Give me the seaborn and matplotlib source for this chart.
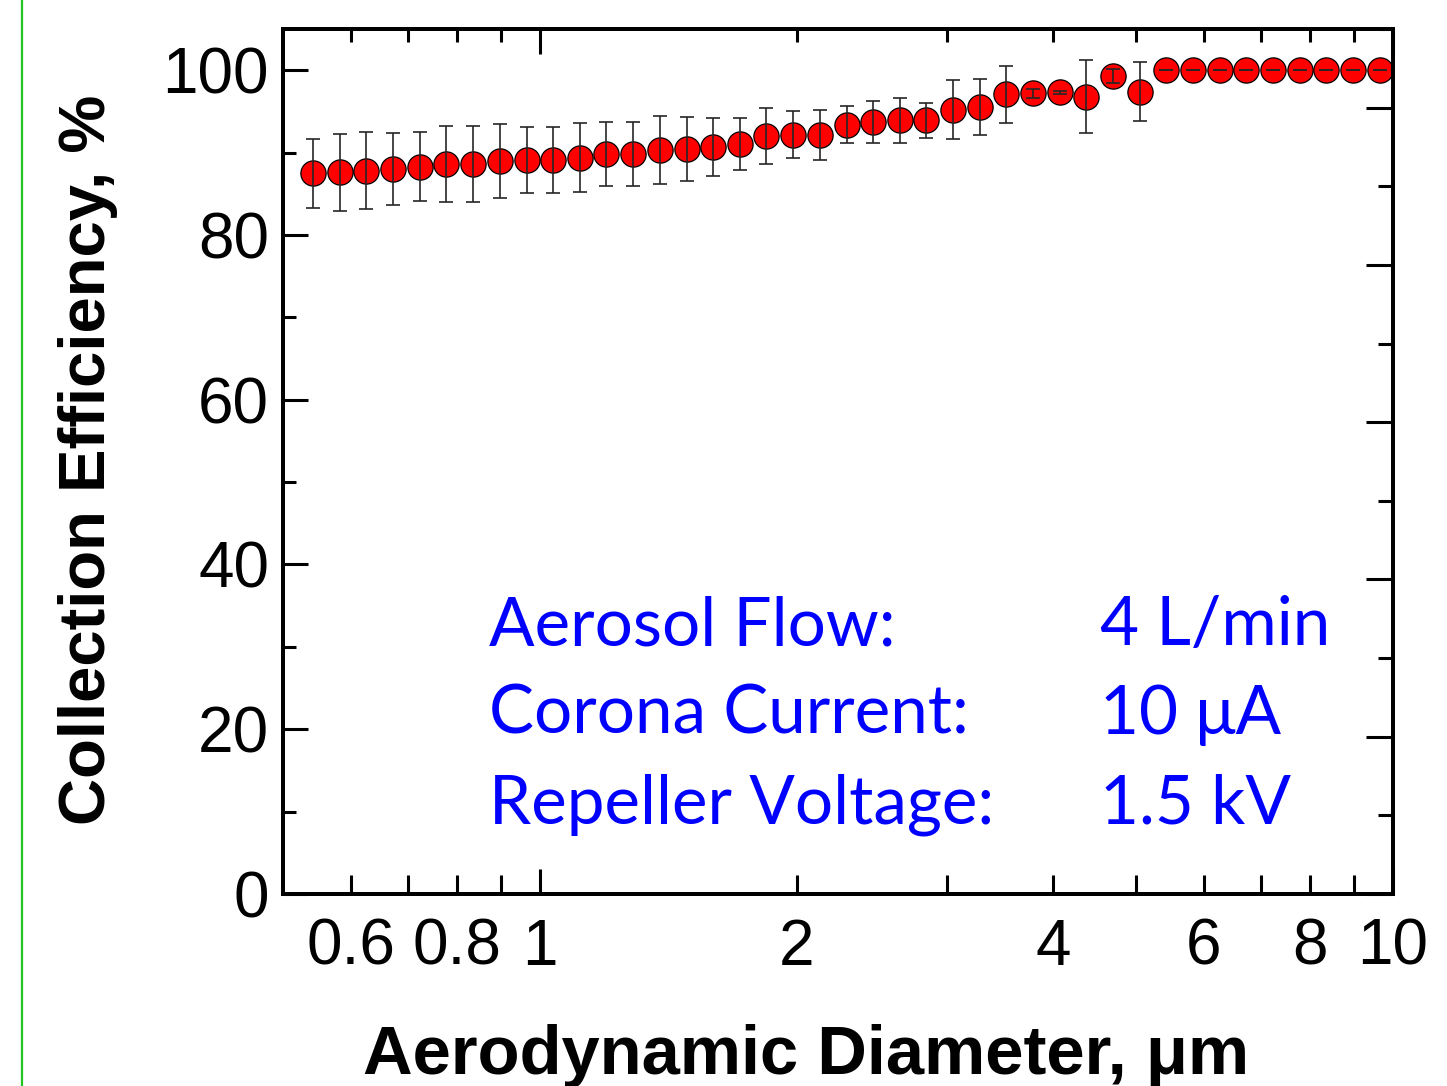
import numpy as np
import seaborn as sns
import matplotlib.pyplot as plt
from matplotlib.lines import Line2D

# aerodynamic diameter (um), APS channel midpoints
diameter = [0.542, 0.583, 0.626, 0.673, 0.723, 0.777, 0.835, 0.898, 0.965, 1.037,
            1.114, 1.197, 1.286, 1.382, 1.486, 1.596, 1.715, 1.843, 1.981, 2.129,
            2.288, 2.458, 2.642, 2.839, 3.051, 3.278, 3.523, 3.786, 4.068, 4.371,
            4.698, 5.048, 5.425, 5.829, 6.264, 6.732, 7.234, 7.774, 8.354, 8.977,
            9.647]
efficiency = [87.5, 87.6, 87.8, 88.0, 88.3, 88.6, 88.6, 89.0, 89.1, 89.1,
              89.4, 89.8, 89.8, 90.3, 90.4, 90.7, 91.0, 92.0, 92.15, 92.15,
              93.4, 93.7, 93.9, 93.9, 95.2, 95.5, 97.1, 97.2, 97.3, 96.8,
              99.3, 97.4, 100, 100, 100, 100, 100, 100, 100, 100,
              100]
eff_err = [4.2, 4.7, 4.65, 4.4, 4.2, 4.6, 4.6, 4.5, 4.0, 4.0,
           4.2, 3.9, 3.9, 4.1, 3.9, 3.5, 3.15, 3.35, 2.85, 3.05,
           2.25, 2.5, 2.7, 2.15, 3.6, 3.4, 3.45, 0.55, 0.2, 4.45,
           0.9, 3.6, 0, 0, 0, 0, 0, 0, 0, 0,
           0]

x_major = [1, 10]
x_major_labels = ['1', '10']
x_minor = [0.6, 0.7, 0.8, 0.9, 2, 3, 4, 5, 6, 7, 8, 9]
x_minor_labels = ['0.6', '', '0.8', '', '2', '', '4', '', '6', '', '8', '']
y_major = [0, 20, 40, 60, 80, 100]
y_minor = [10, 30, 50, 70, 90]

info_names = ['Aerosol Flow:', 'Corona Current:', 'Repeller Voltage:']
info_values = ['4 L/min', '10 \u03bcA', '1.5 kV']

sns.set_theme(style='ticks')
plt.rcParams['font.family'] = ['Liberation Sans', 'DejaVu Sans']
plt.rcParams['text.color'] = 'black'
plt.rcParams['axes.labelcolor'] = 'black'

fig = plt.figure(figsize=(14.47, 10.86), dpi=100)
ax = fig.add_axes([283 / 1447, 192 / 1086, 1110 / 1447, 865 / 1086])

sns.scatterplot(x=diameter, y=efficiency, ax=ax, s=330, color='red',
                edgecolor='black', linewidth=0.9, zorder=2, legend=False)
ax.errorbar(diameter, efficiency, yerr=eff_err, fmt='none', ecolor='#262626',
            elinewidth=1.2, capsize=4.7, capthick=1.2, zorder=3)

ax.set_xscale('log')
ax.set_xlim(0.5, 10.0)
ax.set_ylim(0, 105)
ax.set_xticks(x_major)
ax.set_xticklabels(x_major_labels)
ax.set_xticks(x_minor, minor=True)
ax.set_xticklabels(x_minor_labels, minor=True)
ax.set_yticks(y_major)
ax.set_yticks(y_minor, minor=True)
ax.set_yticklabels([str(v) for v in y_major])

ax.tick_params(axis='both', which='both', direction='in', width=2.2,
               labelsize=46, colors='black')
ax.tick_params(axis='y', which='major', length=18, pad=10)
ax.tick_params(axis='y', which='minor', length=9.5)
ax.tick_params(axis='x', which='major', length=18, pad=17)
ax.tick_params(axis='x', which='minor', length=13.5, pad=17)

for sp in ax.spines.values():
    sp.set_linewidth(2.7)
    sp.set_color('black')
    sp.set_visible(True)

# top axis ticks
ax_top = ax.twiny()
ax_top.set_xscale('log')
ax_top.set_xlim(ax.get_xlim())
ax_top.set_xticks(x_major)
ax_top.set_xticks(x_minor, minor=True)
ax_top.tick_params(axis='x', which='both', direction='in', width=2.2,
                   labeltop=False, labelbottom=False, colors='black')
ax_top.tick_params(axis='x', which='major', length=18)
ax_top.tick_params(axis='x', which='minor', length=9.5)

# right axis ticks (0-110 scale)
ax_right = ax.twinx()
ax_right.set_ylim(0, 110)
ax_right.set_yticks([0, 20, 40, 60, 80, 100])
ax_right.set_yticks([10, 30, 50, 70, 90, 110], minor=True)
ax_right.tick_params(axis='y', which='both', direction='in', width=2.2,
                     labelright=False, colors='black')
ax_right.tick_params(axis='y', which='major', length=19.5)
ax_right.tick_params(axis='y', which='minor', length=10.5)

for a in (ax_top, ax_right):
    for sp in a.spines.values():
        sp.set_linewidth(2.7)
        sp.set_color('black')

fig.text(806 / 1447, 1 - 1056 / 1086, 'Aerodynamic Diameter, \u03bcm',
         ha='center', va='center', fontsize=49.5, fontweight='bold', color='black')
fig.text(88 / 1447, 1 - 460 / 1086, 'Collection Efficiency, %',
         ha='center', va='center', rotation=90, fontsize=47, fontweight='bold',
         color='black')

for i, (name, val) in enumerate(zip(info_names, info_values)):
    yb = 1 - (645 + 89 * i) / 1086
    fig.text(489 / 1447, yb, name, ha='left', va='baseline', color='#0000ff',
             fontsize=48.5, family=['Lato', 'DejaVu Sans'])
    fig.text(1100 / 1447, yb, val, ha='left', va='baseline', color='#0000ff',
             fontsize=48.5, family=['Lato', 'DejaVu Sans'])

fig.add_artist(Line2D([22 / 1447, 22 / 1447], [0, 1], transform=fig.transFigure,
                      color='#22c422', linewidth=1.6))

fig.savefig('out.png', dpi=100)
